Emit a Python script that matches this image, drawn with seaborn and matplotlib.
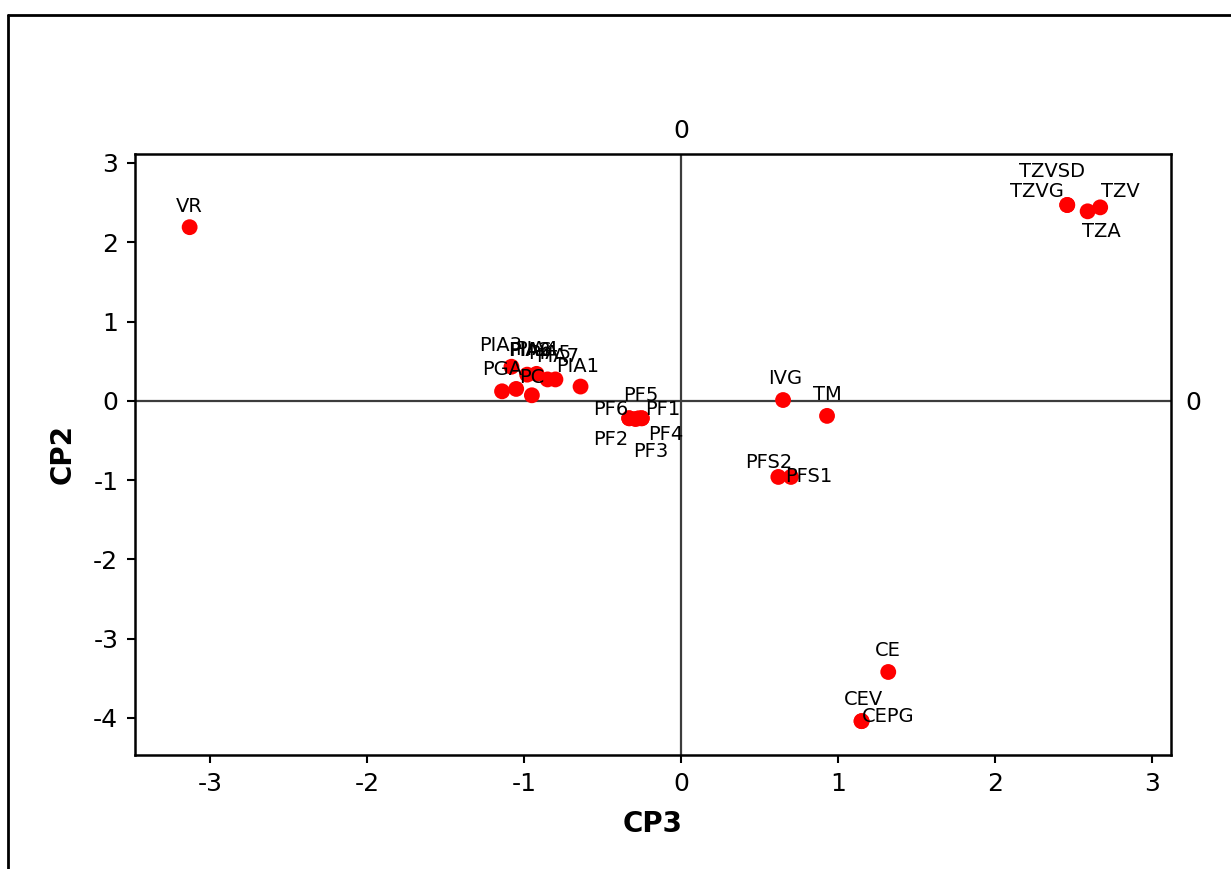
import matplotlib
matplotlib.use("Agg")
import matplotlib.pyplot as plt
from matplotlib.lines import Line2D
import seaborn as sns
import pandas as pd

# ---- data ----
names = ["VR", "TZVSD", "TZVG", "TZA", "TZV", "IVG", "TM", "PFS2", "PFS1", "CE", "CEV", "CEPG",
         "PF6", "PF2", "PF5", "PF1", "PF4", "PF3",
         "PIA3", "PGA", "PIA6", "PC", "PIA2", "PIA4", "PIA5", "PIA7", "PIA1"]
cp3 = [-3.13, 2.46, 2.46, 2.59, 2.67, 0.65, 0.93, 0.62, 0.70, 1.32, 1.15, 1.15,
       -0.33, -0.33, -0.27, -0.25, -0.25, -0.29,
       -1.08, -1.14, -1.05, -0.95, -0.98, -0.92, -0.85, -0.80, -0.64]
cp2 = [2.19, 2.47, 2.47, 2.39, 2.44, 0.01, -0.19, -0.96, -0.96, -3.42, -4.04, -4.04,
       -0.22, -0.22, -0.22, -0.22, -0.22, -0.23,
       0.43, 0.12, 0.15, 0.07, 0.33, 0.34, 0.27, 0.27, 0.18]
x_ticks = [-3, -2, -1, 0, 1, 2, 3]
y_ticks = [-4, -3, -2, -1, 0, 1, 2, 3]
x_label = "CP3"
y_label = "CP2"

# ---- label offsets (pixels) ----
label_offsets = {
    "VR": (0, 21), "TZVSD": (-15, 33), "TZVG": (-30, 13), "TZA": (14, -20), "TZV": (20, 16),
    "IVG": (2, 22), "TM": (0, 21), "PFS2": (-10, 14), "PFS1": (18, 0), "CE": (0, 21),
    "CEV": (2, 22), "CEPG": (27, 5),
    "PF6": (-18, 9), "PF2": (-18, -21), "PF5": (2, 23), "PF1": (21, 9), "PF4": (24, -16), "PF3": (15, -32),
    "PIA3": (-11, 21), "PGA": (0, 22), "PIA6": (14, 38), "PC": (0, 18), "PIA2": (2, 24),
    "PIA4": (0, 24), "PIA5": (2, 26), "PIA7": (2, 23), "PIA1": (-3, 20),
}

df = pd.DataFrame({"name": names, "CP3": cp3, "CP2": cp2})

sns.set_style("white")
plt.rcParams["font.family"] = ["DejaVu Sans"]
plt.rcParams["text.color"] = "black"
plt.rcParams["axes.labelcolor"] = "black"
plt.rcParams["xtick.color"] = "black"
plt.rcParams["ytick.color"] = "black"

fig = plt.figure(figsize=(12.31, 8.69), dpi=100)
ax = fig.add_axes([135 / 1231, 1 - 755 / 869, (1171 - 135) / 1231, (755 - 154) / 869])

ax.axhline(0, color="#3c3c3c", lw=1.6, zorder=1)
ax.axvline(0, color="#3c3c3c", lw=1.6, zorder=1)

sns.scatterplot(data=df, x="CP3", y="CP2", ax=ax, color="#ff0000", s=130,
                edgecolor="none", zorder=3, legend=False)

for n, xv, yv in zip(names, cp3, cp2):
    dx, dy = label_offsets.get(n, (0, 20))
    ax.annotate(n, (xv, yv), xytext=(dx, dy), textcoords="offset pixels",
                ha="center", va="center", fontsize=14, color="black", zorder=4)

ax.set_xlim(-3.478, 3.121)
ax.set_ylim(-4.467, 3.113)
ax.set_xticks(x_ticks)
ax.set_yticks(y_ticks)
ax.set_xticklabels([str(t) for t in x_ticks])
ax.set_yticklabels([str(t) for t in y_ticks])
ax.tick_params(axis="both", labelsize=18, length=6, width=1.5, color="black",
               labelcolor="black", direction="out", pad=6, bottom=True, left=True)
for sp in ax.spines.values():
    sp.set_visible(True)
    sp.set_color("black")
    sp.set_linewidth(1.8)

ax.set_xlabel(x_label, fontsize=20, fontweight="bold", labelpad=10, color="black")
ax.set_ylabel(y_label, fontsize=20, fontweight="bold", labelpad=12, color="black")

secx = ax.secondary_xaxis("top")
secx.set_xticks([0])
secx.set_xticklabels(["0"])
secx.tick_params(length=0, labelsize=18, pad=8, labelcolor="black")
secx.spines["top"].set_visible(False)
secy = ax.secondary_yaxis("right")
secy.set_yticks([0])
secy.set_yticklabels(["0"])
secy.tick_params(length=0, labelsize=18, pad=10, labelcolor="black")
secy.spines["right"].set_visible(False)

# outer frame
fig.add_artist(Line2D([8 / 1231, 1.0], [1 - 15 / 869, 1 - 15 / 869], transform=fig.transFigure,
                      color="black", lw=2))
fig.add_artist(Line2D([8 / 1231, 8 / 1231], [0.0, 1 - 15 / 869], transform=fig.transFigure,
                      color="black", lw=2))

fig.savefig("out.png", dpi=100, facecolor="white")
